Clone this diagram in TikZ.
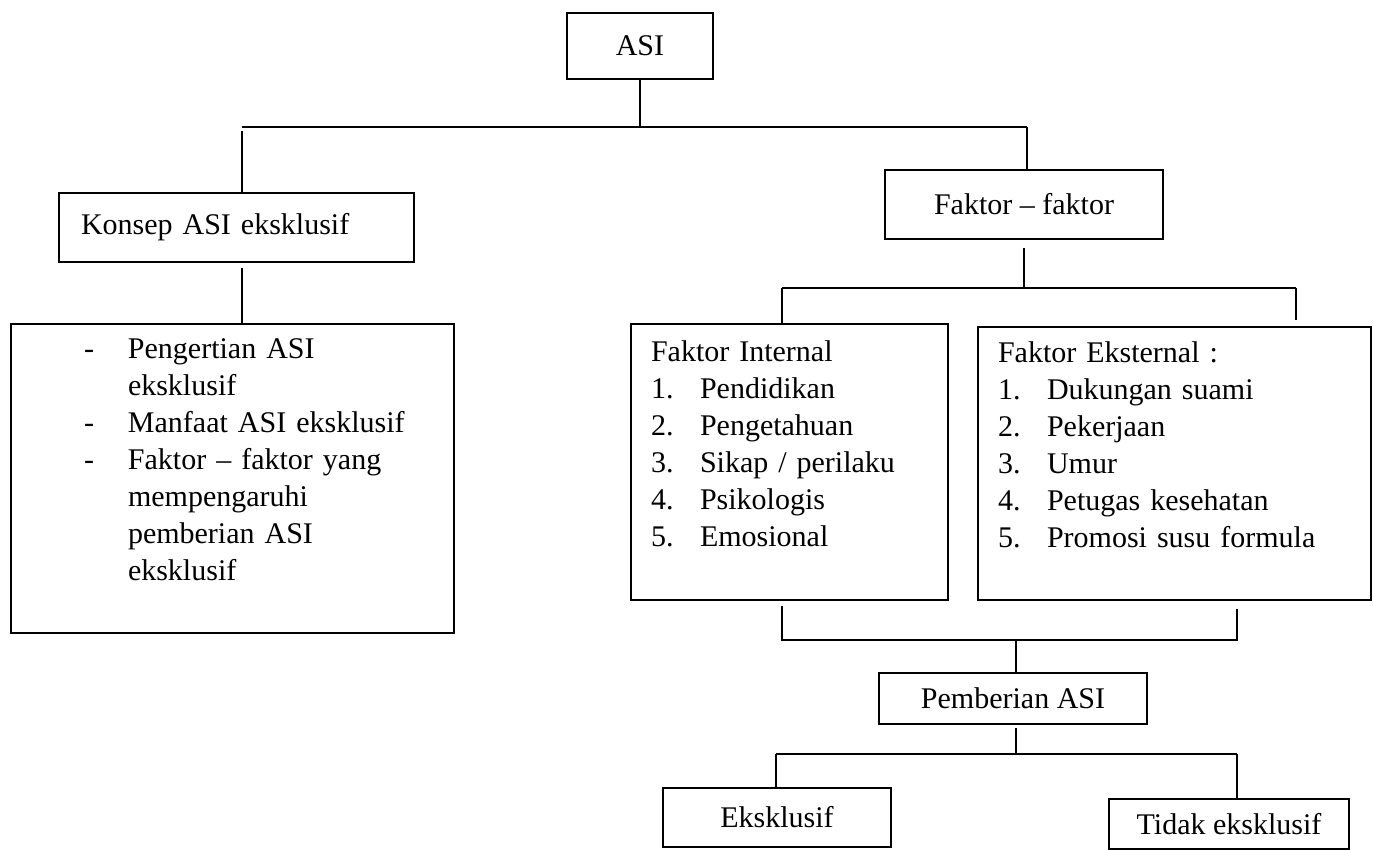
\documentclass[tikz,border=0pt]{standalone}
\usepackage{fontspec}
\setmainfont{Liberation Serif}
\newcommand{\dashitem}[1]{\hspace*{21.2pt}\makebox[17.6pt][l]{-}#1}
\newcommand{\dashcont}[1]{\hspace*{38.8pt}#1}
\newcommand{\numitem}[2]{\makebox[19.6pt][l]{#1.}#2}

\begin{document}
\begin{tikzpicture}[x=0.4pt,y=-0.4pt,line width=0.7pt,
    box/.style={draw,line width=0.8pt,anchor=north west,inner ysep=0pt,
        font=\fontsize{12}{14.8}\selectfont},
    listbox/.style={box,align=left,inner xsep=8pt}]
\useasboundingbox (0,0) rectangle (1373,850);
% boxes
\node[box,align=left,inner xsep=8.8pt,text width=124.4pt,minimum height=27.6pt] (konsep) at (58,192) {Konsep ASI eksklusif};
\node[box,minimum width=58.4pt,minimum height=26.4pt] (asi) at (566,12) {ASI};
\node[box,minimum width=111.2pt,minimum height=27.6pt] (faktor) at (884,169) {Faktor – faktor};
\node[listbox,text width=161.2pt,minimum height=123.6pt] (isi) at (10,323) {%
    \dashitem{Pengertian ASI}\\ \dashcont{eksklusif}\\
    \dashitem{Manfaat ASI eksklusif}\\
    \dashitem{Faktor – faktor yang}\\ \dashcont{mempengaruhi}\\
    \dashcont{pemberian ASI}\\ \dashcont{eksklusif}\\ ~};
\node[listbox,text width=110.8pt,minimum height=110.4pt] (internal) at (630,323) {%
    Faktor Internal\\
    \numitem{1}{Pendidikan}\\ \numitem{2}{Pengetahuan}\\
    \numitem{3}{Sikap / perilaku}\\ \numitem{4}{Psikologis}\\
    \numitem{5}{Emosional}\\ ~};
\node[listbox,text width=141.2pt,minimum height=109.2pt] (eksternal) at (977,326) {%
    Faktor Eksternal :\\
    \numitem{1}{Dukungan suami}\\ \numitem{2}{Pekerjaan}\\
    \numitem{3}{Umur}\\ \numitem{4}{Petugas kesehatan}\\
    \numitem{5}{Promosi susu formula}\\ ~};
\node[box,minimum width=107.2pt,minimum height=20.4pt] (pemberian) at (878,672) {Pemberian ASI};
\node[box,minimum width=91.2pt,minimum height=23.6pt] (eks) at (662,787) {Eksklusif};
\node[box,minimum width=96pt,minimum height=20pt,text depth=-2pt] (tidak) at (1108,798) {Tidak eksklusif};
% junctions
\coordinate (ja) at (242,127); \coordinate (jb) at (1027,127);
\coordinate (jc) at (782,288); \coordinate (jd) at (1296,288);
\coordinate (je) at (782,640); \coordinate (jf) at (1237,640);
\coordinate (jm) at (1016,640);
\coordinate (jg) at (776,754); \coordinate (jh) at (1237,754);
% connectors
\draw (asi.south) -- (asi.south |- ja);
\draw (ja) -- (jb);
\draw ([yshift=-1.6pt]ja) -- (ja |- konsep.north);
\draw (jb) -- (jb |- faktor.north);
\draw ([yshift=-2pt]ja |- konsep.south) -- (ja |- isi.north);
\draw ([yshift=-3.2pt]faktor.south) -- (faktor.south |- jc);
\draw (jc) -- (jd);
\draw (jc) -- (jc |- internal.north);
\draw (jd) -- ([yshift=2.4pt]jd |- eksternal.north);
\draw ([yshift=-2pt]je |- internal.south) -- (je) -- (jf) -- ([yshift=-3.2pt]jf |- eksternal.south);
\draw (jm) -- (jm |- pemberian.north);
\draw ([yshift=-1.2pt]jm |- pemberian.south) -- (jm |- jg);
\draw (jg) -- (jh);
\draw (jg) -- (jg |- eks.north);
\draw (jh) -- (jh |- tidak.north);
\end{tikzpicture}
\end{document}
